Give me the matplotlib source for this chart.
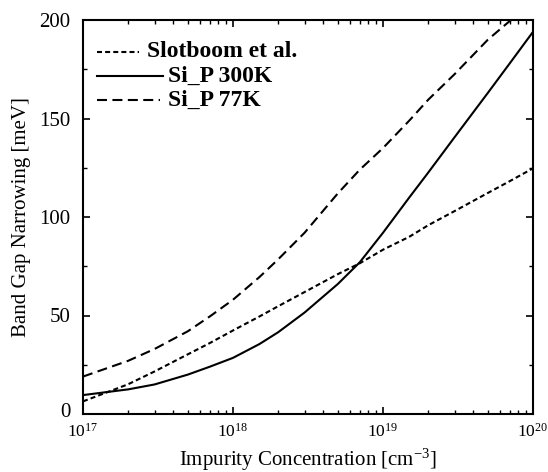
import numpy as np
import matplotlib
matplotlib.use("Agg")
import matplotlib.pyplot as plt
import matplotlib.transforms as mtransforms
from matplotlib.lines import Line2D

plt.rcParams['font.family'] = ['Liberation Serif', 'DejaVu Serif']
plt.rcParams['mathtext.fontset'] = 'custom'
plt.rcParams['mathtext.rm'] = 'Liberation Serif'
plt.rcParams['mathtext.it'] = 'Liberation Serif:italic'
plt.rcParams['mathtext.bf'] = 'Liberation Serif:bold'

# concentracion (cm^-3) y estrechamiento de banda (meV)
conc = [1e17, 2e17, 3e17, 5e17, 7e17, 1e18, 1.5e18, 2e18, 3e18, 5e18, 7e18,
        1e19, 1.5e19, 2e19, 3e19, 5e19, 7e19, 1e20]
slotboom = [6.4, 15.1, 21.6, 30.3, 36.0, 42.4, 49.5, 54.7, 61.9, 71.0, 76.5,
            83.4, 90.0, 95.8, 103.0, 112.2, 118.2, 124.7]
sip_300 = [9.6, 12.5, 15.0, 20.0, 24.0, 28.5, 35.5, 41.5, 51.5, 66.0, 77.0,
           92.0, 110.0, 122.5, 140.5, 163.0, 178.0, 194.0]
sip_77 = [19.0, 27.0, 33.0, 42.0, 49.5, 58.0, 69.5, 78.5, 92.0, 112.0, 124.0,
          135.0, 149.0, 159.5, 172.5, 190.0, 199.5, 208.0]

etiquetas = ['Slotboom et al.', 'Si_P 300K', 'Si_P 77K']
estilos = [(0, (2.4, 1.5)), '-', (0, (4.8, 2.6))]

fig = plt.figure(figsize=(5.48, 4.72), dpi=100)
ax = fig.add_axes([83 / 548, 58 / 472, 450 / 548, 394 / 472])

lw = 1.5
ax.plot(conc, slotboom, color='black', lw=lw, linestyle=estilos[0])
ax.plot(conc, sip_300, color='black', lw=lw, linestyle=estilos[1])
ax.plot(conc, sip_77, color='black', lw=lw, linestyle=estilos[2])

ax.set_xscale('log')
ax.set_xlim(1e17, 1e20)
ax.set_ylim(0, 200)
ax.set_yticks([0, 50, 100, 150, 200])
ax.set_yticks(np.arange(25, 200, 25), minor=True)

ax.tick_params(which='both', direction='in', top=True, right=True)
ax.tick_params(which='major', length=5, width=1.2)
ax.tick_params(which='minor', length=3, width=1.0)
ax.tick_params(axis='x', labelsize=12.5, pad=6)
ax.tick_params(axis='y', labelsize=15, pad=9)
for s in ax.spines.values():
    s.set_linewidth(1.5)

# subir un poco el "0" para que no choque con 10^17
fig.canvas.draw()
ax.get_yticklabels()[0].set_transform(
    ax.get_yticklabels()[0].get_transform()
    + mtransforms.ScaledTranslation(0, 4 / 100, fig.dpi_scale_trans))

ax.set_xlabel('Impurity Concentration [cm$^{-3}$]', fontsize=15, labelpad=5)
ax.set_ylabel('Band Gap Narrowing [meV]', fontsize=15, labelpad=6)

# leyenda dibujada a mano (las muestras no estan alineadas)
filas = [(0.031, 0.124, 0.142), (0.031, 0.178, 0.189), (0.031, 0.171, 0.189)]
ys = [0.919, 0.858, 0.797]
for (x0, x1, xt), y, est, lab in zip(filas, ys, estilos, etiquetas):
    ax.add_line(Line2D([x0, x1], [y, y], transform=ax.transAxes,
                       color='black', lw=lw, linestyle=est))
    ax.text(xt, y, lab, transform=ax.transAxes, fontsize=17,
            fontweight='bold', va='center', ha='left')

fig.savefig('out.png', dpi=100)
